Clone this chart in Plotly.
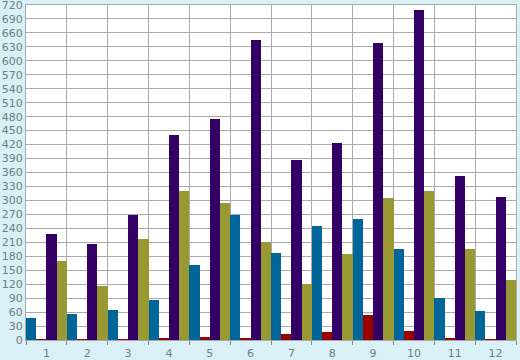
import plotly.graph_objects as go

categories = ["1", "2", "3", "4", "5", "6", "7", "8", "9", "10", "11", "12"]
series_blue = [47, 56, 64, 86, 161, 269, 187, 245, 260, 196, 90, 62]
series_red = [2, 2, 2, 3, 7, 3, 13, 17, 54, 19, 5, 1]
series_purple = [228, 206, 269, 441, 475, 645, 387, 423, 638, 709, 352, 307]
series_olive = [170, 116, 217, 320, 294, 211, 120, 185, 305, 320, 196, 129]
y_ticks = list(range(0, 721, 30))

colors = ["#006699", "#990000", "#330066", "#999933"]
names = ["A", "B", "C", "D"]

fig = go.Figure()
for name, vals, col in zip(names, [series_blue, series_red, series_purple, series_olive], colors):
    fig.add_trace(go.Bar(x=categories, y=vals, name=name, marker=dict(color=col, line=dict(width=0))))

fig.update_layout(
    width=520, height=360,
    margin=dict(l=26, r=4, t=5, b=20, autoexpand=False),
    paper_bgcolor="#d9f0f7",
    plot_bgcolor="#ffffff",
    barmode="group", bargap=0, bargroupgap=0,
    showlegend=False,
    font=dict(family="DejaVu Sans", size=11, color="#6f7f7f"),
)
fig.update_xaxes(
    type="category", tickson="boundaries", showgrid=True, gridcolor="#aaaaaa", gridwidth=1,
    ticks="outside", ticklen=4, tickcolor="#888888", automargin=False,
    showline=True, linecolor="#aaaaaa", mirror=True, zeroline=False,
    ticklabeloverflow="allow", ticklabelstandoff=3,
)
fig.update_yaxes(
    range=[0, 720], tickvals=y_ticks, showgrid=True, gridcolor="#aaaaaa", gridwidth=1,
    ticks="", showline=True, linecolor="#aaaaaa", mirror=True, zeroline=False,
    ticklabelstandoff=0, automargin=False, ticklabeloverflow="allow",
)
fig.write_html(
    "out.html",
    config={"displayModeBar": False},
    post_script="document.body.style.margin='0px';document.body.style.background='#d9f0f7';",
)
